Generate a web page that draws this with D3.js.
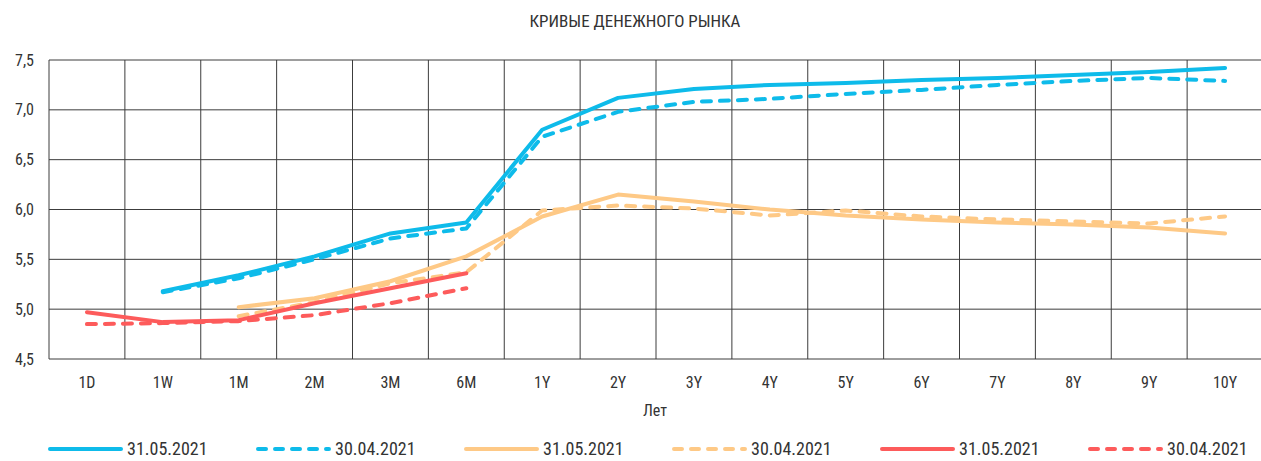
<!DOCTYPE html>
<html>
<head>
<meta charset="utf-8">
<script src="https://cdn.jsdelivr.net/npm/d3@7"></script>
<style>
  html, body { margin: 0; padding: 0; background: #fff; }
  svg text { font-family: "Liberation Sans Narrow", "Roboto Condensed", Roboto, sans-serif; fill: #333; }
</style>
</head>
<body>
<div id="vis"></div>
<script>
// ── CONFIG ─────────────────────────────────────────────────────────────────────
const width  = 1261;
const height = 461;
const plotLeft   = 49;
const plotRight  = 1263;
const plotTop    = 60;
const plotBottom = 359;

// ── DATA ───────────────────────────────────────────────────────────────────────
const categories = ["1D", "1W", "1M", "2M", "3M", "6M", "1Y", "2Y", "3Y", "4Y", "5Y", "6Y", "7Y", "8Y", "9Y", "10Y"];
const yTicks = [4.5, 5.0, 5.5, 6.0, 6.5, 7.0, 7.5];

const blueMay   = [null, 5.18, 5.34, 5.53, 5.76, 5.87, 6.80, 7.12, 7.21, 7.25, 7.27, 7.30, 7.32, 7.35, 7.38, 7.42];
const blueApr   = [null, 5.17, 5.31, 5.50, 5.71, 5.81, 6.73, 6.98, 7.08, 7.11, 7.16, 7.20, 7.25, 7.29, 7.32, 7.29];
const orangeMay = [null, null, 5.02, 5.11, 5.28, 5.53, 5.93, 6.15, 6.08, 6.00, 5.94, 5.90, 5.87, 5.85, 5.82, 5.76];
const orangeApr = [null, null, 4.93, 5.07, 5.26, 5.37, 5.99, 6.04, 6.01, 5.94, 5.99, 5.93, 5.90, 5.88, 5.86, 5.93];
const redMay    = [4.97, 4.87, 4.89, 5.06, 5.21, 5.36, null, null, null, null, null, null, null, null, null, null];
const redApr    = [4.85, 4.86, 4.88, 4.94, 5.06, 5.21, null, null, null, null, null, null, null, null, null, null];

const series = [
  { label: "31.05.2021", values: blueMay,   color: "#0ebbea", dashed: false },
  { label: "30.04.2021", values: blueApr,   color: "#0ebbea", dashed: true  },
  { label: "31.05.2021", values: orangeMay, color: "#fec986", dashed: false },
  { label: "30.04.2021", values: orangeApr, color: "#fec986", dashed: true  },
  { label: "31.05.2021", values: redMay,    color: "#fd5b5b", dashed: false },
  { label: "30.04.2021", values: redApr,    color: "#fd5b5b", dashed: true  }
];

// ── SVG ────────────────────────────────────────────────────────────────────────
const svg = d3.select("#vis").append("svg")
    .attr("width", width)
    .attr("height", height);

const x = d3.scaleBand(categories, [plotLeft, plotRight]).padding(0);
const y = d3.scaleLinear([4.5, 7.5], [plotBottom, plotTop]);

// title
svg.append("text")
    .attr("x", 635).attr("y", 27)
    .attr("text-anchor", "middle")
    .style("font-size", "17px")
    .text("КРИВЫЕ ДЕНЕЖНОГО РЫНКА");

// grid
const grid = svg.append("g").attr("stroke", "#3c3c3c").attr("stroke-width", 1);
grid.selectAll("line.h").data(yTicks).join("line")
    .attr("class", "h")
    .attr("x1", plotLeft).attr("x2", plotRight)
    .attr("y1", d => y(d)).attr("y2", d => y(d));
grid.selectAll("line.v").data(categories.concat(["end"])).join("line")
    .attr("class", "v")
    .attr("x1", (d, i) => plotLeft + i * x.bandwidth())
    .attr("x2", (d, i) => plotLeft + i * x.bandwidth())
    .attr("y1", plotTop).attr("y2", plotBottom);

// y axis labels
svg.append("g").selectAll("text").data(yTicks).join("text")
    .attr("x", 34)
    .attr("y", d => y(d))
    .attr("dy", "0.35em")
    .attr("text-anchor", "end")
    .style("font-size", "16px")
    .text(d => d3.format(".1f")(d).replace(".", ","));

// x axis labels
svg.append("g").selectAll("text").data(categories).join("text")
    .attr("x", d => x(d) + x.bandwidth() / 2)
    .attr("y", 382)
    .attr("dy", "0.35em")
    .attr("text-anchor", "middle")
    .style("font-size", "16px")
    .text(d => d);

svg.append("text")
    .attr("x", 655).attr("y", 410)
    .attr("dy", "0.35em")
    .attr("text-anchor", "middle")
    .style("font-size", "16px")
    .text("Лет");

// lines
const line = d3.line()
    .defined(d => d[1] != null)
    .x(d => x(d[0]) + x.bandwidth() / 2)
    .y(d => y(d[1]));

svg.append("g").attr("fill", "none")
  .selectAll("path").data(series).join("path")
    .attr("stroke", d => d.color)
    .attr("stroke-width", 4)
    .attr("stroke-linecap", "round")
    .attr("stroke-linejoin", "round")
    .attr("stroke-dasharray", d => d.dashed ? "9,9" : null)
    .attr("d", d => line(categories.map((c, i) => [c, d.values[i]])));

// legend
const legend = svg.append("g")
  .selectAll("g").data(series).join("g")
    .attr("transform", (d, i) => `translate(${50 + i * 208},449)`);
legend.append("line")
    .attr("x1", 0).attr("x2", 71)
    .attr("stroke", d => d.color)
    .attr("stroke-width", 4)
    .attr("stroke-linecap", "round")
    .attr("stroke-dasharray", d => d.dashed ? "8,9" : null);
legend.append("text")
    .attr("x", 77)
    .attr("dy", "0.35em")
    .style("font-size", "18px")
    .text(d => d.label);
</script>
</body>
</html>
